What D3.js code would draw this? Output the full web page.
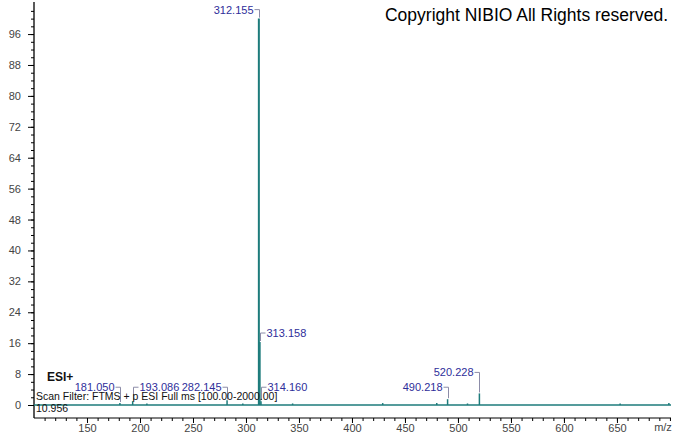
<!DOCTYPE html>
<html>
<head>
<meta charset="utf-8">
<script src="https://cdn.jsdelivr.net/npm/d3@7.9.0/dist/d3.min.js"></script>
<style>
  body { margin: 0; background: #fff; }
  svg { font-family: Arial, "Liberation Sans", sans-serif; }
</style>
</head>
<body>
<svg width="674" height="434"></svg>
<script>
// peak list (m/z, relative abundance)
const mz = [181.050, 193.086, 206.5, 282.145, 297.0, 312.155, 313.158, 314.160, 344.0, 429.0, 480.0, 490.218, 509.0, 520.228, 653.0, 699.0];
const intensity = [0.5, 1.0, 0.4, 1.2, 0.4, 100, 16.3, 1.0, 0.4, 0.5, 0.5, 1.5, 0.4, 3.0, 0.4, 0.5];
const labelled = ['181.050', '193.086', '282.145', '312.155', '313.158', '314.160', '490.218', '520.228'];
const labelSide = ['left', 'right', 'left', 'left', 'right', 'right', 'left', 'left'];
const yTicks = [0, 8, 16, 24, 32, 40, 48, 56, 64, 72, 80, 88, 96];
const xTicks = [150, 200, 250, 300, 350, 400, 450, 500, 550, 600, 650];

const svg = d3.select('svg');
const x = d3.scaleLinear().domain([100, 701]).range([34, 671]);
const y = d3.scaleLinear().domain([0, 104.3]).range([405, 2]);
const teal = '#1d7b7b';
const labelColor = '#2e2e9a';
const bracketColor = '#8c8ca8';

// y axis
svg.append('g')
  .attr('transform', 'translate(34,0)')
  .call(d3.axisLeft(y).tickValues(d3.range(0, 104, 2)).tickSize(3).tickFormat(''))
  .call(g => g.select('.domain').remove());
svg.append('g')
  .attr('transform', 'translate(34,0)')
  .call(d3.axisLeft(y).tickValues(yTicks).tickSize(6).tickPadding(7))
  .call(g => g.select('.domain').remove())
  .call(g => g.selectAll('text').attr('font-size', 11).attr('fill', '#444'));
svg.append('line').attr('x1', 34).attr('x2', 34).attr('y1', 2).attr('y2', 418)
  .attr('stroke', '#000').attr('stroke-width', 1.3);

// x axis
const xAxisY = 418;
svg.append('g')
  .attr('transform', `translate(0,${xAxisY})`)
  .call(d3.axisBottom(x).tickValues(d3.range(110, 701, 10)).tickSize(3).tickFormat(''))
  .call(g => g.select('.domain').remove());
svg.append('g')
  .attr('transform', `translate(0,${xAxisY})`)
  .call(d3.axisBottom(x).tickValues(xTicks).tickSize(5).tickPadding(1))
  .call(g => g.select('.domain').remove())
  .call(g => g.selectAll('text').attr('font-size', 11).attr('fill', '#444'));
svg.append('line').attr('x1', 34).attr('x2', 671).attr('y1', xAxisY).attr('y2', xAxisY)
  .attr('stroke', '#000');
svg.append('text').attr('x', 663).attr('y', 431).attr('text-anchor', 'middle')
  .attr('font-size', 11).attr('fill', '#444').text('m/z');

// baseline
svg.append('line').attr('x1', 34).attr('x2', 671).attr('y1', y(0)).attr('y2', y(0))
  .attr('stroke', teal).attr('stroke-width', 1.3);

// peaks
svg.append('g').selectAll('line').data(mz).join('line')
  .attr('x1', d => x(d)).attr('x2', d => x(d))
  .attr('y1', y(0)).attr('y2', (d, i) => y(intensity[i]))
  .attr('stroke', teal).attr('stroke-width', (d, i) => intensity[i] > 50 ? 2 : 1.5);

// peak labels with brackets; a label that would hit the one before is lifted one row
const lab = svg.append('g');
const placed = [];
labelled.forEach((t, j) => {
  const i = mz.findIndex(v => v.toFixed(3) === t);
  const px = Math.round(x(mz[i])) + 0.5;
  const top = y(intensity[i]);
  let ly = Math.min(top - 9, y(4.6));
  const side = labelSide[j];
  const txt = lab.append('text')
    .attr('x', side === 'left' ? px - 6 : px + 6)
    .attr('text-anchor', side === 'left' ? 'end' : 'start')
    .attr('font-size', 11).attr('fill', labelColor)
    .text(t);
  const w = txt.node().getComputedTextLength();
  const x0 = side === 'left' ? px - 6 - w : px + 6;
  const x1 = x0 + w;
  while (placed.some(b => x0 < b.x1 && x1 > b.x0 && Math.abs(ly - b.y) < 10)) ly -= 12;
  placed.push({ x0, x1, y: ly });
  txt.attr('y', ly + 4);
  lab.append('path')
    .attr('d', side === 'left'
      ? `M${px - 5},${ly} H${px} V${top - 1}`
      : `M${px + 5},${ly} H${px} V${top - 1}`)
    .attr('fill', 'none').attr('stroke', bracketColor);
});

// annotations
svg.append('text').attr('x', 47).attr('y', 381).attr('font-size', 12).attr('font-weight', 'bold')
  .attr('fill', '#111').text('ESI+');
svg.append('text').attr('x', 36).attr('y', 400).attr('font-size', 10.5).attr('fill', '#111')
  .text('Scan Filter: FTMS + p ESI Full ms [100.00-2000.00]');
svg.append('text').attr('x', 36).attr('y', 412).attr('font-size', 10.5).attr('fill', '#111')
  .text('10.956');
svg.append('text').attr('x', 668).attr('y', 21).attr('text-anchor', 'end')
  .attr('font-size', 17.5).attr('fill', '#000').text('Copyright NIBIO All Rights reserved.');
</script>
</body>
</html>
